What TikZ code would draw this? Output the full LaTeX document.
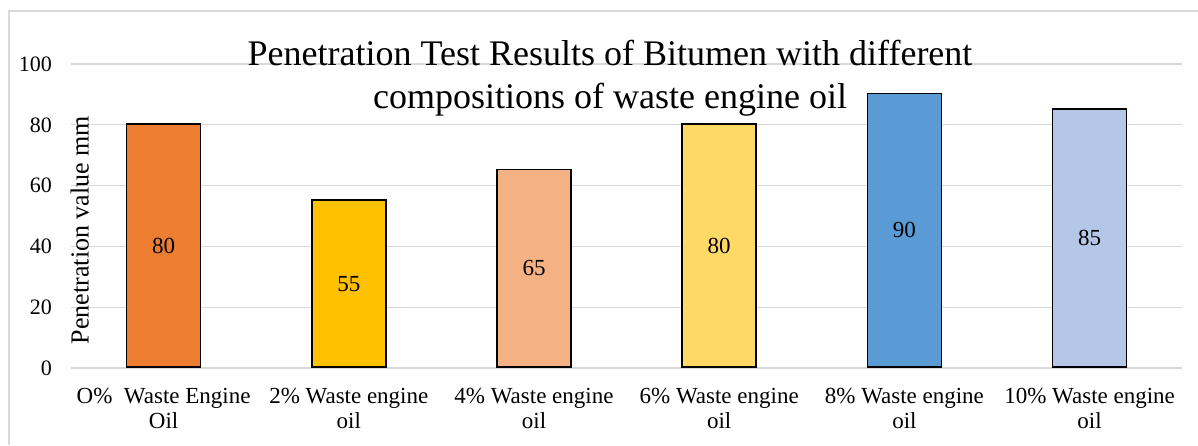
\documentclass[tikz,border=0pt]{standalone}
\usepackage{fontspec}
\setmainfont{Liberation Serif}
\definecolor{gridc}{HTML}{D9D9D9}
\definecolor{cA}{HTML}{ED7D31}
\definecolor{cB}{HTML}{FFC000}
\definecolor{cC}{HTML}{F4B183}
\definecolor{cD}{HTML}{FFD966}
\definecolor{cE}{HTML}{5B9BD5}
\definecolor{cF}{HTML}{B4C7E7}
\tikzset{
  barbox/.style={draw=black, line width=1.6pt, inner sep=0pt, minimum width=74pt, anchor=south, font=\fontsize{23}{23}\selectfont},
  gridline/.style={draw=gridc, line width=1.3pt},
  ticklab/.style={anchor=east, inner sep=0pt, font=\fontsize{22}{22}\selectfont},
  catlab/.style={anchor=base, inner sep=0pt, align=center, font=\fontsize{23}{25}\selectfont},
}
\begin{document}
\begin{tikzpicture}[x=1pt,y=-1pt]
\useasboundingbox (0,0) rectangle (1198,445);
% chart border
\coordinate (bl) at (9,445);
\coordinate (tl) at (9,11);
\coordinate (tr) at (1198,11);
\draw[draw=gridc, line width=1.2pt] (bl) -- (tl) -- (tr);
% gridlines and tick labels
\foreach \v/\n in {0/g0,20/g20,40/g40,60/g60,80/g80,100/g100}{
  \coordinate (\n L) at (71,{368-3.04*\v});
  \coordinate (\n R) at (1182,{368-3.04*\v});
  \draw[gridline] (\n L) -- (\n R);
  \node[ticklab] (\n t) at (52,{368-3.04*\v}) {\v};
}
% title
\node[anchor=base, inner sep=0pt, align=center, font=\fontsize{36}{43}\selectfont] (title) at (610,108) {Penetration Test Results of Bitumen with different\\compositions of waste engine oil};
% y axis title
\node[rotate=90, anchor=south, inner sep=0pt, font=\fontsize{26}{26}\selectfont] (ytitle) at (89,230) {Penetration value mm};
% bars
\node[barbox, fill=cA, minimum height={3.04*80pt}] (b1) at (163.6,368) {80};
\node[barbox, fill=cB, minimum height={3.04*55pt}] (b2) at (348.8,368) {55};
\node[barbox, fill=cC, minimum height={3.04*65pt}] (b3) at (534.0,368) {65};
\node[barbox, fill=cD, minimum height={3.04*80pt}] (b4) at (719.2,368) {80};
\node[barbox, fill=cE, minimum height={3.04*90pt}] (b5) at (904.4,368) {90};
\node[barbox, fill=cF, minimum height={3.04*85pt}] (b6) at (1089.6,368) {85};
% category labels
\node[catlab] (l1) at (163.6,428) {O\%\ \ Waste Engine\\Oil};
\node[catlab] (l2) at (348.8,428) {2\% Waste engine\\oil};
\node[catlab] (l3) at (534.0,428) {4\% Waste engine\\oil};
\node[catlab] (l4) at (719.2,428) {6\% Waste engine\\oil};
\node[catlab] (l5) at (904.4,428) {8\% Waste engine\\oil};
\node[catlab] (l6) at (1089.6,428) {10\% Waste engine\\oil};
\end{tikzpicture}
\end{document}
